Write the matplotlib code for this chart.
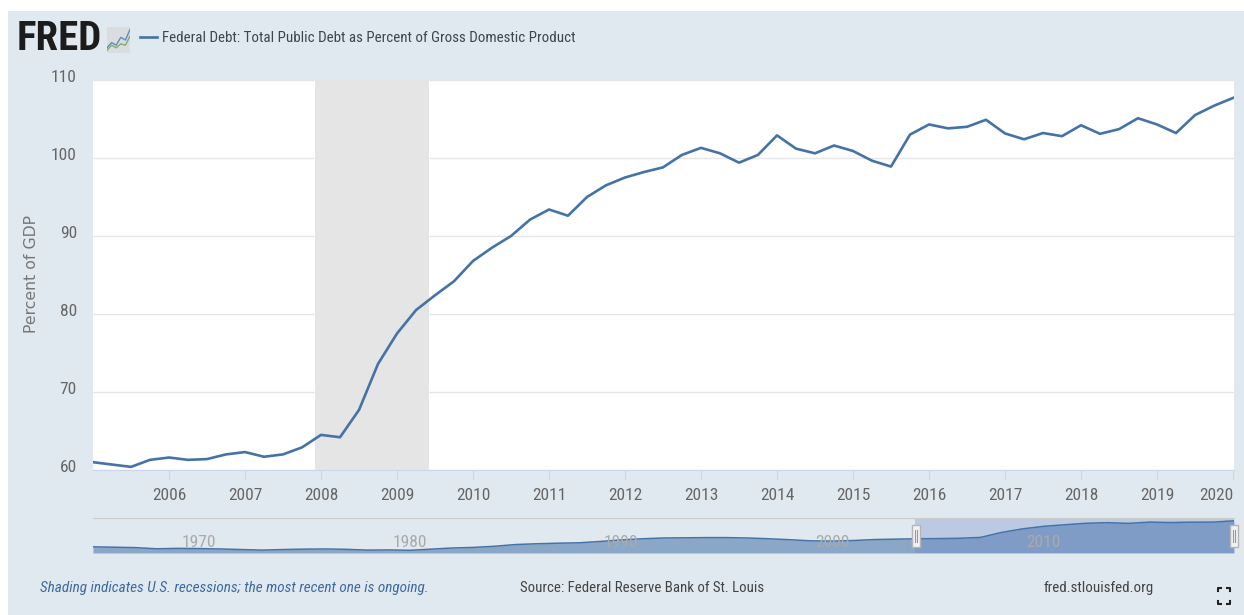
import numpy as np
import matplotlib
matplotlib.use('Agg')
import matplotlib.pyplot as plt
from matplotlib.patches import Rectangle
from matplotlib.lines import Line2D
from matplotlib import font_manager as fm

W, H = 1244, 615

# quarterly values, 2005 Q1 to 2020 Q1
start_year = 2005
debt = [61.0, 60.7, 60.4, 61.3, 61.6, 61.3, 61.4, 62.0, 62.3, 61.7, 62.0, 62.9,
        64.5, 64.2, 67.7, 73.6, 77.5, 80.5, 82.4, 84.2, 86.8, 88.5, 90.0, 92.1,
        93.4, 92.6, 95.0, 96.5, 97.5, 98.2, 98.8, 100.4, 101.3, 100.6, 99.4, 100.4,
        102.9, 101.2, 100.6, 101.6, 100.9, 99.65, 98.9, 103.0, 104.3, 103.8, 104.0, 104.9,
        103.15, 102.4, 103.2, 102.8, 104.2, 103.1, 103.7, 105.1, 104.3, 103.2, 105.5, 106.7,
        107.7]

# navigator at the bottom, one value per year from 1966
nav_start = 1966
nav_debt = [40, 39, 38, 35, 36, 35.5, 34.5, 33, 31.5, 33, 34, 34.5, 33.5, 31.5, 32,
            31, 34, 37, 38.5, 41.5, 46, 48, 49.5, 50.5, 54, 58, 61, 63, 63.5, 64,
            64, 63, 61, 58.5, 55.5, 55, 56.5, 59, 60, 61, 61.5, 62.3, 64.5, 77.5, 86.8,
            93.4, 97.5, 101.3, 102.9, 101, 104.3, 103.2, 104.2, 104.3, 107.7]
nav_labels = [1970, 1980, 1990, 2000, 2010]

recession = (2007.917, 2009.417)
selected = (2004.9, 2020)
x_ticks = list(range(2006, 2021))
y_ticks = [60, 70, 80, 90, 100, 110]

title = 'Federal Debt: Total Public Debt as Percent of Gross Domestic Product'
note = 'Shading indicates U.S. recessions; the most recent one is ongoing.'
source = 'Source: Federal Reserve Bank of St. Louis'
site = 'fred.stlouisfed.org'

BG = '#e1e9f0'
BLUE = '#4572a7'
GREY = '#666666'

# the screenshot is squeezed sideways, so a condensed face is closest
names = {f.name for f in fm.fontManager.ttflist}
FONT = 'Roboto'
for cand in ['Roboto Condensed', 'Asap Condensed', 'Barlow Semi Condensed']:
    if cand in names:
        FONT = cand
        break
LOGO_FONT = 'Roboto Condensed' if 'Roboto Condensed' in names else 'Liberation Sans'
plt.rcParams['font.family'] = [FONT, 'DejaVu Sans']


def px_axes(x0, y0, x1, y1, **kw):
    # pixel box measured from the top left of the image
    return fig.add_axes([x0 / W, 1 - y1 / H, (x1 - x0) / W, (y1 - y0) / H], **kw)


def px_text(x, y, s, width=None, **kw):
    t = fig.text(x / W, 1 - y / H, s, va='center', **kw)
    if width:
        # fit the font size to the width measured on the reference
        r = t.get_window_extent(fig.canvas.get_renderer())
        t.set_fontsize(t.get_fontsize() * width / r.width)
    return t


def px_line(xs, ys, **kw):
    fig.add_artist(Line2D([x / W for x in xs], [1 - y / H for y in ys], **kw))


fig = plt.figure(figsize=(W / 100, H / 100), dpi=100, facecolor='white')
fig.add_artist(Rectangle((8 / W, 0), 1 - 8 / W, 1 - 11 / H, transform=fig.transFigure,
                         facecolor=BG, edgecolor='none', zorder=-5))

# main chart
ax = px_axes(93, 80, 1234, 470, facecolor='white')
years = [start_year + i / 4 for i in range(len(debt))]
ax.axvspan(recession[0], recession[1], color='#e5e5e5', lw=0, zorder=1)
ax.plot(years, debt, color=BLUE, lw=1.9, zorder=3, solid_joinstyle='round')
ax.set_xlim(2005, 2020.013)
ax.set_ylim(60, 110)
ax.set_xticks(x_ticks)
ax.set_yticks(y_ticks)
ax.set_yticklabels([])
ax.grid(axis='y', color='#e6e6e6', lw=1)
ax.set_axisbelow(True)
for s in ['top', 'left', 'right']:
    ax.spines[s].set_visible(False)
ax.spines['bottom'].set_color('#ccd6eb')
ax.tick_params(axis='x', length=7, color='#ccd6eb', labelsize=12.5, labelcolor=GREY, pad=6)
ax.tick_params(axis='y', length=0)
ax.get_xticklabels()[-1].set_ha('right')
for v in y_ticks:
    ax.annotate(str(v), (0, v), xycoords=('axes fraction', 'data'), xytext=(-16, 2),
                textcoords='offset pixels', ha='right', va='center',
                fontsize=12.5, color=GREY, annotation_clip=False)
px_text(31, 274, 'Percent of GDP', rotation=90, ha='center', fontsize=11.3,
        color='#777777', family='DejaVu Sans')

# navigator
nav = px_axes(93, 518, 1234, 553, facecolor='none')
nav_years = [nav_start + i for i in range(len(nav_debt))]
nav.fill_between(nav_years, nav_debt, 24, color=BLUE, alpha=0.55, lw=0)
nav.plot(nav_years, nav_debt, color=BLUE, lw=1.1)
nav.axvspan(selected[0], selected[1], color='#6685c2', alpha=0.3, lw=0)
nav.set_xlim(1966, 2020)
nav.set_ylim(24, 115)
nav.set_yticks([])
nav.set_xticks(nav_labels)
nav.set_xticklabels([])
nav.tick_params(axis='x', length=0)
nav.grid(axis='x', color='#e6e6e6', lw=1)
nav.set_axisbelow(True)
for s in ['left', 'right', 'bottom']:
    nav.spines[s].set_visible(False)
nav.spines['top'].set_color('#cccccc')
for yr in nav_labels:
    nav.annotate(str(yr), (yr, 0), xycoords=('data', 'axes fraction'), xytext=(4, 6),
                 textcoords='offset pixels', color='#aaaaaa', fontsize=12.5, zorder=2)
for x in [916, 1234]:
    fig.add_artist(Rectangle(((x - 4) / W, 1 - 547 / H), 8 / W, 22 / H,
                             transform=fig.transFigure, facecolor='#f2f2f2',
                             edgecolor='#b5b5b5', lw=1, zorder=5))
    for dx in [-1, 1]:
        px_line([x + dx, x + dx], [530, 542], color='#999999', lw=0.8, zorder=6)

# header
px_text(17, 39, 'FRED', width=85, ha='left', fontsize=27, fontweight='bold', color='#1c1c1c',
        family=LOGO_FONT)
ic = px_axes(107, 27, 130, 53, facecolor='#d9dddf')
ic.plot([0, 2, 4, 6, 8, 10], [2, 4, 3, 6, 5, 9], color='#5f8fb5', lw=1)
ic.plot([0, 2, 4, 6, 8, 10], [1, 3, 2, 3.5, 3, 6.5], color='#7fae6e', lw=1)
ic.set_xlim(0, 10)
ic.set_ylim(0, 10)
ic.set_xticks([])
ic.set_yticks([])
for s in ic.spines.values():
    s.set_visible(False)
px_line([140, 157], [37, 37], color=BLUE, lw=1.9)
px_text(162, 38, title, width=414, ha='left', fontsize=14, color='#3d4550')

# footer
px_text(40, 588, note, width=393, ha='left', fontsize=14, style='italic', color='#3e6a9f')
px_text(520, 588, source, width=246, ha='left', fontsize=14, color='#444444')
px_text(1044, 588, site, width=111, ha='left', fontsize=14, color='#444444')
for cx, cy in [(1218, 588), (1230, 588), (1218, 604), (1230, 604)]:
    sx = 1 if cx < 1224 else -1
    sy = 1 if cy < 596 else -1
    px_line([cx + sx * 3, cx, cx], [cy, cy, cy + sy * 3], color='#222222', lw=1.5)

fig.savefig('out.png', dpi=100, facecolor=fig.get_facecolor())
